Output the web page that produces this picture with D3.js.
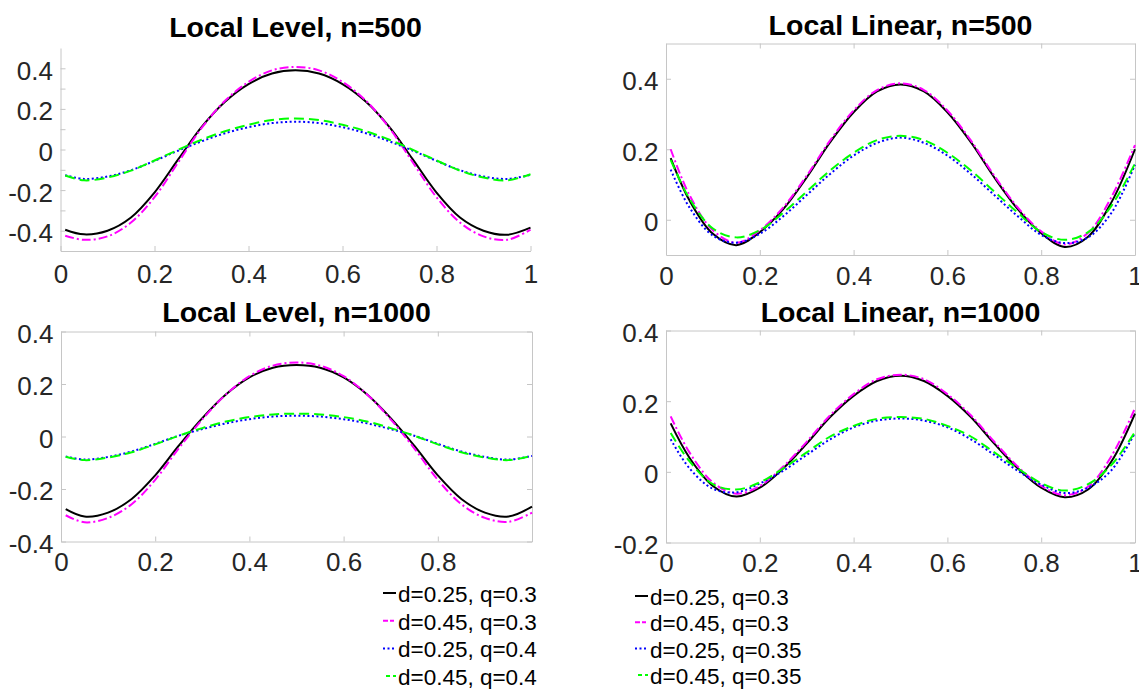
<!DOCTYPE html>
<html>
<head>
<meta charset="UTF-8">
<title>Local Level / Local Linear</title>
<script src="https://cdn.jsdelivr.net/npm/d3@7"></script>
<style>
  body { margin: 0; background: #fff; }
  svg { display: block; font-family: "Liberation Sans", Arial, Helvetica, sans-serif; }
</style>
</head>
<body>
<svg width="1139" height="689"></svg>
<script>
var xGrid = [0.01,0.05,0.10,0.15,0.20,0.25,0.30,0.35,0.40,0.45,0.50,0.55,0.60,0.65,0.70,0.75,0.80,0.85,0.90,0.95,1.00];

// Local Level, n=500
var lev500_d25q30 = [-0.395,-0.418,-0.400,-0.335,-0.212,-0.050,0.110,0.235,0.322,0.374,0.390,0.374,0.322,0.235,0.110,-0.050,-0.212,-0.335,-0.400,-0.420,-0.385];
var lev500_d45q30 = [-0.425,-0.445,-0.428,-0.360,-0.235,-0.065,0.105,0.240,0.333,0.390,0.407,0.390,0.333,0.240,0.105,-0.065,-0.235,-0.360,-0.428,-0.445,-0.395];
var lev500_d25q40 = [-0.127,-0.145,-0.133,-0.102,-0.056,-0.006,0.040,0.080,0.110,0.130,0.137,0.130,0.110,0.080,0.040,-0.006,-0.056,-0.102,-0.133,-0.145,-0.125];
var lev500_d45q40 = [-0.128,-0.152,-0.138,-0.104,-0.054,-0.002,0.048,0.090,0.122,0.145,0.153,0.145,0.122,0.090,0.048,-0.002,-0.054,-0.104,-0.138,-0.152,-0.122];

// Local Linear, n=500
var lin500_d25q30 = [0.175,0.055,-0.040,-0.072,-0.035,0.030,0.120,0.220,0.305,0.364,0.384,0.364,0.305,0.220,0.120,0.030,-0.038,-0.077,-0.048,0.050,0.200];
var lin500_d45q30 = [0.200,0.070,-0.030,-0.065,-0.030,0.035,0.125,0.225,0.310,0.368,0.387,0.368,0.310,0.225,0.125,0.035,-0.033,-0.070,-0.037,0.065,0.212];
var lin500_d25q35 = [0.142,0.035,-0.045,-0.065,-0.040,0.010,0.070,0.130,0.182,0.218,0.233,0.218,0.182,0.130,0.070,0.010,-0.043,-0.066,-0.050,0.020,0.156];
var lin500_d45q35 = [0.170,0.060,-0.025,-0.050,-0.030,0.020,0.080,0.140,0.190,0.226,0.238,0.226,0.190,0.140,0.080,0.020,-0.035,-0.057,-0.035,0.040,0.160];

// Local Level, n=1000
var lev1000_d25q30 = [-0.277,-0.305,-0.290,-0.238,-0.148,-0.035,0.070,0.160,0.225,0.262,0.272,0.262,0.225,0.160,0.070,-0.035,-0.148,-0.238,-0.290,-0.305,-0.267];
var lev1000_d45q30 = [-0.300,-0.327,-0.310,-0.258,-0.165,-0.045,0.065,0.160,0.230,0.270,0.282,0.270,0.230,0.160,0.065,-0.045,-0.165,-0.258,-0.310,-0.325,-0.290];
var lev1000_d25q40 = [-0.076,-0.088,-0.078,-0.057,-0.028,0.003,0.028,0.050,0.066,0.076,0.079,0.076,0.066,0.050,0.028,0.003,-0.028,-0.057,-0.078,-0.088,-0.074];
var lev1000_d45q40 = [-0.077,-0.090,-0.080,-0.060,-0.030,0.003,0.032,0.057,0.074,0.084,0.087,0.084,0.074,0.057,0.032,0.003,-0.030,-0.060,-0.080,-0.090,-0.073];

// Local Linear, n=1000
var lin1000_d25q30 = [0.137,0.040,-0.040,-0.070,-0.045,0.010,0.080,0.155,0.215,0.257,0.272,0.257,0.215,0.155,0.080,0.010,-0.045,-0.072,-0.050,0.030,0.165];
var lin1000_d45q30 = [0.157,0.055,-0.030,-0.062,-0.040,0.015,0.085,0.160,0.220,0.262,0.275,0.262,0.220,0.160,0.085,0.015,-0.040,-0.066,-0.042,0.045,0.180];
var lin1000_d25q35 = [0.092,0.010,-0.048,-0.058,-0.033,0.003,0.048,0.092,0.126,0.145,0.151,0.145,0.126,0.092,0.048,0.003,-0.036,-0.060,-0.045,0.005,0.110];
var lin1000_d45q35 = [0.110,0.030,-0.035,-0.050,-0.030,0.010,0.055,0.100,0.130,0.150,0.155,0.150,0.130,0.100,0.055,0.010,-0.032,-0.053,-0.035,0.020,0.113];

var levelLegend = ["d=0.25, q=0.3", "d=0.45, q=0.3", "d=0.25, q=0.4", "d=0.45, q=0.4"];
var linearLegend = ["d=0.25, q=0.3", "d=0.45, q=0.3", "d=0.25, q=0.35", "d=0.45, q=0.35"];

var xTicks = [0, 0.2, 0.4, 0.6, 0.8, 1];
var xTicksNoOne = [0, 0.2, 0.4, 0.6, 0.8];

var lineStyles = [
  {color: "#000000", dash: null},
  {color: "#ff00ff", dash: "9,3,2,3"},
  {color: "#0000ff", dash: "2,2.5"},
  {color: "#00ff00", dash: "10,5"}
];

var panels = [
  {title: "Local Level, n=500", series: [lev500_d25q30, lev500_d45q30, lev500_d25q40, lev500_d45q40],
   left: 60.5, right: 530.5, top: 48, bottom: 251, ydom: [-0.5, 0.5],
   yticks: [-0.4,-0.3,-0.2,-0.1,0,0.1,0.2,0.3,0.4], ylab: [-0.4,-0.2,0,0.2,0.4],
   xticks: xTicks, box: false, titleY: 37, xPad: 13.5},
  {title: "Local Linear, n=500", series: [lin500_d25q30, lin500_d45q30, lin500_d25q35, lin500_d45q35],
   left: 666, right: 1135, top: 43.5, bottom: 255, ydom: [-0.1, 0.5],
   yticks: [0, 0.2, 0.4], ylab: [0, 0.2, 0.4],
   xticks: xTicks, box: true, titleY: 34.5, xPad: 11.5},
  {title: "Local Level, n=1000", series: [lev1000_d25q30, lev1000_d45q30, lev1000_d25q40, lev1000_d45q40],
   left: 61, right: 532, top: 331.5, bottom: 541.5, ydom: [-0.4, 0.4],
   yticks: [-0.4,-0.2,0,0.2,0.4], ylab: [-0.4,-0.2,0,0.2,0.4],
   xticks: xTicksNoOne, box: true, titleY: 321.5, xPad: 11.5},
  {title: "Local Linear, n=1000", series: [lin1000_d25q30, lin1000_d45q30, lin1000_d25q35, lin1000_d45q35],
   left: 666, right: 1135, top: 330.5, bottom: 542.5, ydom: [-0.2, 0.4],
   yticks: [-0.2,0,0.2,0.4], ylab: [-0.2,0,0.2,0.4],
   xticks: xTicks, box: true, titleY: 321.5, xPad: 11.5}
];

var svg = d3.select("svg");
var axisColor = "#c6c6c6";
var labelColor = "#262626";

function fmt(d) { return String(+d.toFixed(2)); }

function styleAxis(sel) {
  sel.attr("font-size", 26).attr("font-family", null);
  sel.selectAll("path, line").attr("stroke", axisColor);
  sel.selectAll("text").attr("fill", labelColor);
}

panels.forEach(function(p) {
  var x = d3.scaleLinear().domain([0, 1]).range([p.left, p.right]);
  var y = d3.scaleLinear().domain(p.ydom).range([p.bottom, p.top]);
  var g = svg.append("g");

  // inward ticks, matlab style
  g.append("g")
    .attr("transform", "translate(0," + p.bottom + ")")
    .call(d3.axisBottom(x).tickValues(p.xticks).tickSizeInner(-5).tickSizeOuter(0)
      .tickPadding(p.xPad).tickFormat(fmt))
    .call(styleAxis);

  g.append("g")
    .attr("transform", "translate(" + p.left + ",0)")
    .call(d3.axisLeft(y).tickValues(p.yticks).tickSizeInner(-5).tickSizeOuter(0)
      .tickPadding(7.5).tickFormat(function(d) {
        return p.ylab.some(function(v) { return Math.abs(v - d) < 1e-9; }) ? fmt(d) : "";
      }))
    .call(styleAxis)
    .selectAll("text").attr("dy", "0.42em");

  if (p.box) {
    g.append("g")
      .attr("transform", "translate(0," + p.top + ")")
      .call(d3.axisTop(x).tickValues(p.xticks).tickSizeInner(-5).tickSizeOuter(0).tickFormat(""))
      .call(styleAxis);
    g.append("g")
      .attr("transform", "translate(" + p.right + ",0)")
      .call(d3.axisRight(y).tickValues(p.yticks).tickSizeInner(-5).tickSizeOuter(0).tickFormat(""))
      .call(styleAxis);
  }

  var line = d3.line()
    .x(function(d, i) { return x(xGrid[i]); })
    .y(function(d) { return y(d); })
    .curve(d3.curveCatmullRom.alpha(0.5));

  g.selectAll(".curve")
    .data(p.series)
    .enter()
    .append("path")
    .attr("class", "curve")
    .attr("d", line)
    .attr("fill", "none")
    .attr("stroke", function(d, i) { return lineStyles[i].color; })
    .attr("stroke-width", 2)
    .attr("stroke-dasharray", function(d, i) { return lineStyles[i].dash; });

  g.append("text")
    .attr("x", (p.left + p.right) / 2)
    .attr("y", p.titleY)
    .attr("text-anchor", "middle")
    .attr("font-size", 28.5)
    .attr("font-weight", "bold")
    .attr("fill", "#000")
    .text(p.title);
});

// legends (no box)
function drawLegend(names, x0, y0, step) {
  var lg = svg.append("g");
  var rows = lg.selectAll("g")
    .data(names)
    .enter()
    .append("g")
    .attr("transform", function(d, i) { return "translate(" + x0 + "," + (y0 + i * step) + ")"; });
  rows.append("line")
    .attr("x1", 0).attr("x2", 13)
    .attr("y1", -9).attr("y2", -9)
    .attr("stroke", function(d, i) { return lineStyles[i].color; })
    .attr("stroke-width", 2)
    .attr("stroke-dasharray", function(d, i) { return i == 3 ? "4,3" : (i == 1 ? "5,2,4,2" : lineStyles[i].dash); })
    .attr("stroke-dashoffset", function(d, i) { return i == 3 ? -3 : 0; });
  rows.append("text")
    .attr("x", 15)
    .attr("font-size", 22.5)
    .attr("fill", "#000")
    .text(function(d) { return d; });
}

drawLegend(levelLegend, 383, 602, 27.7);
drawLegend(linearLegend, 635, 605, 26.3);
</script>
</body>
</html>
